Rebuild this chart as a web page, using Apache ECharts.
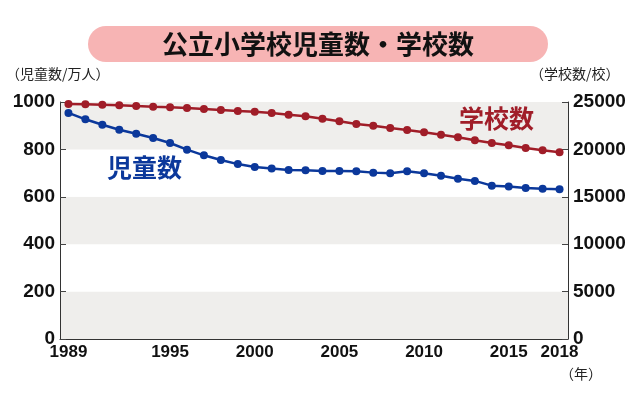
<!DOCTYPE html>
<html>
<head>
<meta charset="utf-8">
<script src="https://cdn.jsdelivr.net/npm/echarts@6/dist/echarts.min.js"></script>
<style>html,body{margin:0;padding:0;background:#fff;}#c{width:640px;height:395px;}</style>
</head>
<body>
<div id="c"></div>
<script>
const years = ['1989','1990','1991','1992','1993','1994','1995','1996','1997','1998','1999','2000','2001','2002','2003','2004','2005','2006','2007','2008','2009','2010','2011','2012','2013','2014','2015','2016','2017','2018'];
const shownYears = ['1989','1995','2000','2005','2010','2015','2018'];
const pupils = [954,927,904,883,866,848,827,799,775,755,738,726,719,713,712,709,709,708,702,699,708,699,689,676,667,647,643,637,634,632];
const schools = [24790,24760,24715,24650,24580,24505,24440,24365,24260,24155,24050,23975,23840,23660,23490,23240,22965,22680,22500,22255,22045,21805,21550,21275,20960,20675,20430,20150,19905,19690];
const leftTicks = [0,200,400,600,800,1000];
const rightTicks = [0,5000,10000,15000,20000,25000];

const numFont = '"Liberation Sans Narrow","Liberation Sans",Arial,sans-serif';
const cjkFont = '"Noto Sans CJK JP",sans-serif';
const RED = '#a01d28';
const BLUE = '#0b389b';

const chart = echarts.init(document.getElementById('c'), null, {renderer:'canvas'});
chart.setOption({
  animation: false,
  backgroundColor: '#fff',
  title: {
    text: '公立小学校児童数・学校数',
    left: 88, top: 26,
    padding: [5, 74, 5, 74],
    backgroundColor: '#f7b4b4',
    borderRadius: 18,
    textStyle: {fontFamily: cjkFont, fontWeight: 'bold', fontSize: 26, color: '#111', lineHeight: 26}
  },
  grid: {left: 60, right: 72, top: 102, bottom: 56, containLabel: false, outerBoundsMode: 'none'},
  xAxis: {
    type: 'category',
    data: years,
    boundaryGap: true,
    axisLine: {lineStyle: {color: '#333', width: 1}},
    axisTick: {inside: true, length: 5, alignWithLabel: true, interval: 0, lineStyle: {color: '#444'}},
    axisLabel: {
      interval: function (i, v) { return shownYears.indexOf(v) >= 0; },
      margin: 5,
      fontFamily: numFont, fontWeight: 'bold', fontSize: 17, color: '#111'
    },
    splitLine: {show: false}
  },
  yAxis: [
    {
      type: 'value', min: leftTicks[0], max: leftTicks[leftTicks.length-1], interval: 200,
      position: 'left',
      axisLine: {show: true, lineStyle: {color: '#333'}},
      axisTick: {show: true, inside: true, length: 6, lineStyle: {color: '#444'}},
      axisLabel: {margin: 5, fontFamily: numFont, fontWeight: 'bold', fontSize: 19, color: '#111',
        formatter: function (v) { return String(v); }},
      splitLine: {show: false},
      splitArea: {show: true, areaStyle: {color: ['#efeeec', '#ffffff']}}
    },
    {
      type: 'value', min: rightTicks[0], max: rightTicks[rightTicks.length-1], interval: 5000,
      position: 'right',
      axisLine: {show: true, lineStyle: {color: '#333'}},
      axisTick: {show: true, inside: true, length: 6, lineStyle: {color: '#444'}},
      axisLabel: {margin: 5, fontFamily: numFont, fontWeight: 'bold', fontSize: 19, color: '#111',
        formatter: function (v) { return String(v); }},
      splitLine: {show: false}
    }
  ],
  graphic: [
    {type: 'text', z: 100, left: 6, top: 67, style: {text: '（児童数/万人）', fontFamily: cjkFont, fontSize: 14, fill: '#222'}},
    {type: 'text', z: 100, left: 530, top: 67, style: {text: '（学校数/校）', fontFamily: cjkFont, fontSize: 14, fill: '#222'}},
    {type: 'text', z: 100, left: 560, top: 367, style: {text: '（年）', fontFamily: cjkFont, fontSize: 14, fill: '#222'}},
    {type: 'text', z: 100, left: 107, top: 155, style: {text: '児童数', fontFamily: cjkFont, fontWeight: 'bold', fontSize: 25, fill: BLUE}},
    {type: 'text', z: 100, left: 459, top: 106, style: {text: '学校数', fontFamily: cjkFont, fontWeight: 'bold', fontSize: 25, fill: RED}}
  ],
  series: [
    {
      name: '学校数', type: 'line', yAxisIndex: 1, data: schools,
      symbol: 'circle', symbolSize: 8,
      itemStyle: {color: RED}, lineStyle: {color: RED, width: 2.5}
    },
    {
      name: '児童数', type: 'line', yAxisIndex: 0, data: pupils,
      symbol: 'circle', symbolSize: 8,
      itemStyle: {color: BLUE}, lineStyle: {color: BLUE, width: 2.5}
    }
  ]
});
</script>
</body>
</html>
